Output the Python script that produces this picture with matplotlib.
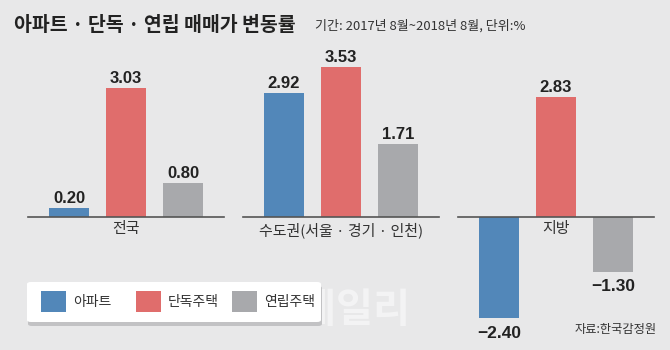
import matplotlib
matplotlib.use("Agg")
import matplotlib.pyplot as plt
from matplotlib.patches import FancyBboxPatch, Rectangle

plt.rcParams['font.family'] = ['Noto Sans CJK KR', 'DejaVu Sans']

# data
regions = ["전국", "수도권(서울 · 경기 · 인천)", "지방"]
series_names = ["아파트", "단독주택", "연립주택"]
apartment = [0.20, 2.92, -2.40]
detached = [3.03, 3.53, 2.83]
rowhouse = [0.80, 1.71, -1.30]
value_labels = [["0.20", "2.92", "-2.40"],
                ["3.03", "3.53", "2.83"],
                ["0.80", "1.71", "-1.30"]]

title = "아파트 · 단독 · 연립 매매가 변동률"
subtitle = "기간: 2017년 8월~2018년 8월, 단위:%"
source = "자료:한국감정원"
watermark = "이데일리"

colors = ["#5287b9", "#e06d6c", "#a8a9ac"]
bg = "#e8e8e9"
num_font = ["Liberation Sans", "DejaVu Sans"]

fig = plt.figure(figsize=(6.7, 3.5), dpi=100, facecolor=bg)
ax = fig.add_axes([0, 0, 1, 1])
ax.set_facecolor(bg)
ax.set_xlim(-0.586, 2.530)
ax.set_ylim(-3.15, 5.12)
ax.axis("off")

# faint watermark partly hidden behind the legend
fig.text(336 / 670, 1 - 311 / 350, watermark, fontsize=29, fontweight="bold",
         color="white", alpha=0.5, ha="center", va="center", zorder=1)

offset = 0.265
width = 0.188
all_series = [apartment, detached, rowhouse]
for s, (vals, col) in enumerate(zip(all_series, colors)):
    xs = [g + (s - 1) * offset for g in range(len(regions))]
    ax.bar(xs, vals, width=width, color=col, zorder=2)
    for x, v, lab in zip(xs, vals, value_labels[s]):
        txt = lab.replace("-", "\u2212")
        if v >= 0:
            ax.annotate(txt, (x, v), xytext=(0, 3.8), textcoords="offset points",
                        ha="center", va="baseline", fontsize=12, fontweight="bold",
                        color="#222222", family=num_font)
        else:
            ax.annotate(txt, (x, v), xytext=(0, -5.5), textcoords="offset points",
                        ha="center", va="top", fontsize=12.5, fontweight="bold",
                        color="#222222", family=num_font)

# baselines and region names
for g, name in enumerate(regions):
    ax.plot([g - 0.455, g + 0.455], [0, 0], color="#555555", lw=1.2, zorder=3)
    ax.annotate(name, (g, 0), xytext=(0, -4), textcoords="offset points",
                ha="center", va="top", fontsize=10.8, color="#333333")

# title and subtitle
fig.text(14 / 670, 1 - 25.5 / 350, title, fontsize=14, fontweight="bold",
         color="#222222", va="center", ha="left")
fig.text(315 / 670, 1 - 25.5 / 350, subtitle, fontsize=9.4, color="#333333",
         va="center", ha="left")
fig.text(575 / 670, 1 - 329 / 350, source, fontsize=8.8, color="#333333",
         va="center", ha="left")

# legend box with shadow
shadow = FancyBboxPatch((28 / 670, 1 - 326 / 350), 294 / 670, 40 / 350,
                        boxstyle="round,pad=0,rounding_size=0.006",
                        transform=fig.transFigure, facecolor="#c2c2c4",
                        edgecolor="none", zorder=4)
box = FancyBboxPatch((27 / 670, 1 - 322 / 350), 294 / 670, 40 / 350,
                     boxstyle="round,pad=0,rounding_size=0.006",
                     transform=fig.transFigure, facecolor="white",
                     edgecolor="none", zorder=5)
fig.patches.extend([shadow, box])
leg_x = [41, 136, 232]
for lx, name, col in zip(leg_x, series_names, colors):
    fig.patches.append(Rectangle((lx / 670, 1 - 312 / 350), 25 / 670, 21 / 350,
                                 transform=fig.transFigure, facecolor=col,
                                 edgecolor="none", zorder=6))
    fig.text((lx + 32) / 670, 1 - 302 / 350, name, fontsize=10, color="#333333",
             va="center", ha="left", zorder=7)

fig.savefig("out.png", dpi=100, facecolor=bg)
